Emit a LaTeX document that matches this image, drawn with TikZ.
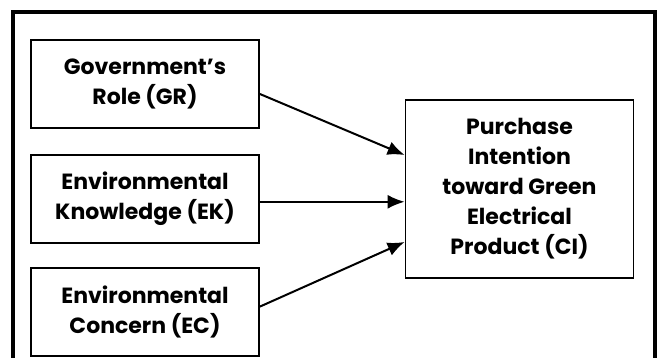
\documentclass[tikz,border=0pt]{standalone}
\usepackage{fontspec}
\setmainfont{Poppins}
\usepackage{tikz}
\usetikzlibrary{arrows.meta,positioning}
\tikzstyle{factor} = [rectangle, draw=black, line width=1.8pt, minimum width=228pt, minimum height=88pt, align=center, inner sep=0pt, font=\fontsize{22}{30}\selectfont\bfseries]

\begin{document}
\begin{tikzpicture}[x=1pt,y=-1pt,->,>={Latex[length=17pt,width=14pt]},line width=2pt]
            \useasboundingbox (0,0) rectangle (660,358);
            % outer frame, open at the bottom
            \draw[-,line width=3.2pt] (13,358) -- (13,12) -- (655,12) -- (655,358);

            \node[factor] (GR) at (145,84) {Government’s\\Role (GR)};
            \node[factor] (EK) [below=25pt of GR] {Environmental\\Knowledge (EK)};
            \node[factor] (EC) [below=23pt of EK] {Environmental\\Concern (EC)};
            \node[factor,minimum height=178pt] (CI) at (519.5,189) {Purchase\\Intention\\toward Green\\Electrical\\Product (CI)};

            \path ([yshift=-10pt]GR.east) edge ([yshift=34pt]CI.west)
            ([yshift=-3pt]EK.east) edge ([yshift=-3pt]EK.east -| CI.west)
            ([yshift=5pt]EC.east) edge ([yshift=-53pt]CI.west);
        \end{tikzpicture}
\end{document}
